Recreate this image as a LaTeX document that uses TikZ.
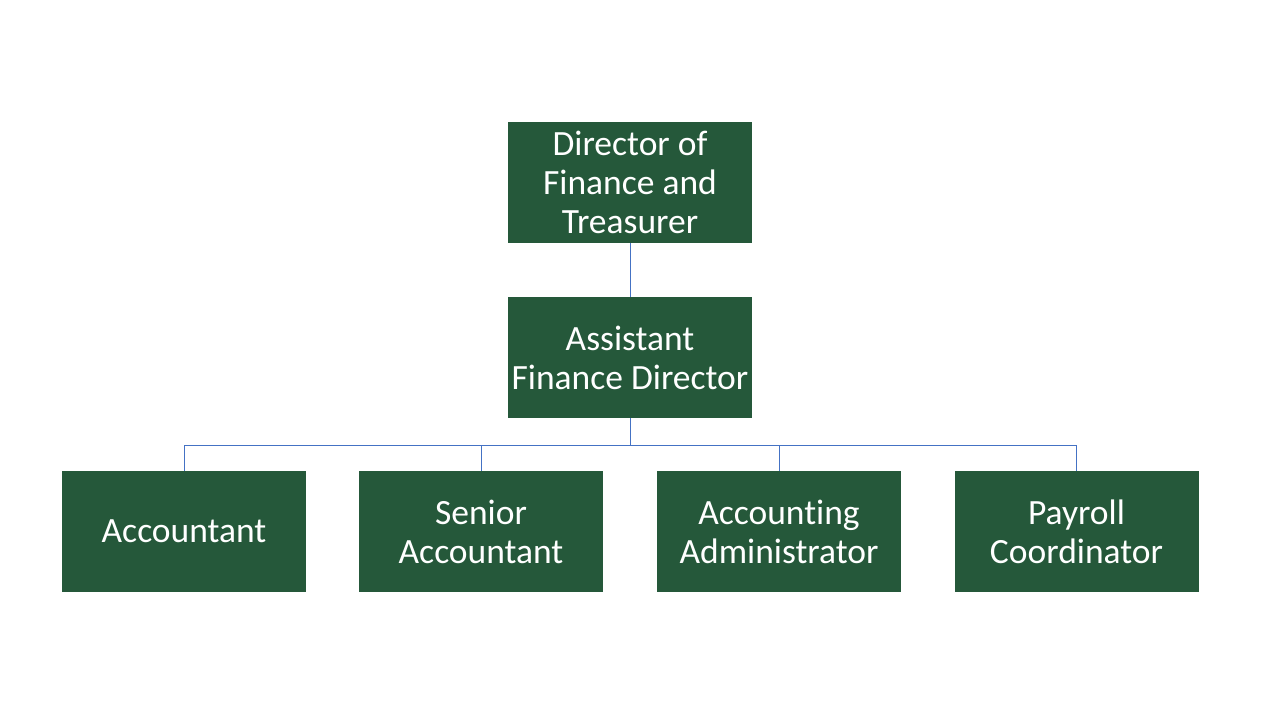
\documentclass[tikz,border=0pt]{standalone}
\usepackage{fontspec}
\setmainfont{Carlito}[Ligatures={NoCommon}]
\definecolor{boxgreen}{RGB}{37,88,58}
\definecolor{linkblue}{RGB}{68,114,196}
\begin{document}
\begin{tikzpicture}[x=1pt,y=-1pt,
  orgbox/.style={fill=boxgreen,draw=none,minimum width=244pt,minimum height=121pt,
    text=white,align=center,inner sep=0pt,font=\fontsize{35.5}{39}\selectfont},
  link/.style={draw=linkblue,line width=1pt}]
\useasboundingbox (0,0) rectangle (1280,720);
\fill[white] (0,0) rectangle (1280,720);
\node[orgbox] (dir) at (630,182.5) {Director of\\Finance and\\Treasurer};
\node[orgbox] (afd) at (630,357.5) {Assistant\\Finance Director};
\node[orgbox] (acc) at (184,531.5) {Accountant};
\node[orgbox] (sen) at (481,531.5) {Senior\\Accountant};
\node[orgbox] (adm) at (779,531.5) {Accounting\\Administrator};
\node[orgbox] (pay) at (1076.5,531.5) {Payroll\\Coordinator};
\coordinate (bus) at (630,445);
\draw[link] (dir.south) -- (afd.north);
\draw[link] (afd.south) -- (bus);
\draw[link] (acc.north) |- (bus);
\draw[link] (sen.north) |- (bus);
\draw[link] (adm.north) |- (bus);
\draw[link] (pay.north) |- (bus);
\end{tikzpicture}
\end{document}
